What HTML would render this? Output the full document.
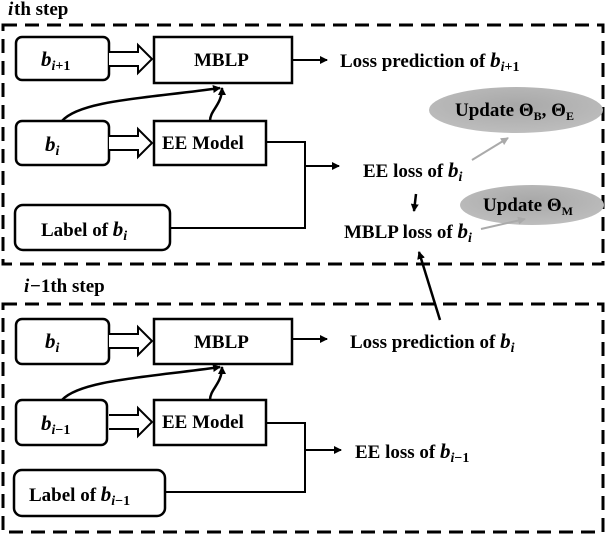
<!DOCTYPE html>
<html><head><meta charset="utf-8"><style>
html,body{margin:0;padding:0;background:#fff;}
svg{display:block;}
text{font-family:"Liberation Serif",serif;font-weight:bold;font-size:19px;fill:#000;}
.i{font-style:italic;}
.b{font-style:italic;font-size:21px;}
.s{font-size:14px;font-style:italic;}
.n{font-size:14px;}
</style></head><body>
<svg width="606" height="534" viewBox="0 0 606 534" xmlns="http://www.w3.org/2000/svg">
<defs>
<marker id="ah" markerWidth="8" markerHeight="8" refX="7" refY="4" orient="auto" markerUnits="userSpaceOnUse"><path d="M0,0 L8,4 L0,8 Z" fill="#000"/></marker>
<marker id="ag" markerWidth="8" markerHeight="8" refX="7" refY="4" orient="auto" markerUnits="userSpaceOnUse"><path d="M0,0 L8,4 L0,8 Z" fill="#aaa"/></marker>
<radialGradient id="eg" cx="50%" cy="40%" r="60%"><stop offset="0" stop-color="#a8a8a8"/><stop offset="1" stop-color="#bdbdbd"/></radialGradient>
</defs>

<!-- TOP -->
<text x="8" y="15" class="i">i</text><text x="14" y="15">th step</text>
<rect x="3" y="25" width="600" height="239" fill="none" stroke="#000" stroke-width="3" stroke-dasharray="14,8"/>

<rect x="16" y="37" width="93" height="43" rx="6" fill="#fff" stroke="#000" stroke-width="2.5"/>
<text x="41" y="66"><tspan class="b">b</tspan><tspan class="s" dy="4">i</tspan><tspan class="n">+1</tspan></text>
<rect x="154" y="37" width="138" height="46" fill="#fff" stroke="#000" stroke-width="2.5"/>
<text x="194" y="66">MBLP</text>
<path d="M109,52 H138 V45 L152,59 L138,73 V66 H109" fill="#fff" stroke="#000" stroke-width="2"/>
<line x1="292" y1="60" x2="327" y2="60" stroke="#000" stroke-width="2" marker-end="url(#ah)"/>
<text x="340" y="67">Loss prediction of <tspan class="b">b</tspan><tspan class="s" dy="4">i</tspan><tspan class="n">+1</tspan></text>

<rect x="16" y="121" width="93" height="44" rx="6" fill="#fff" stroke="#000" stroke-width="2.5"/>
<text x="45" y="151"><tspan class="b">b</tspan><tspan class="s" dy="4">i</tspan></text>
<rect x="154" y="121" width="112" height="44" fill="#fff" stroke="#000" stroke-width="2.5"/>
<text x="162" y="149">EE Model</text>
<path d="M109,136 H138 V129 L152,143 L138,157 V150 H109" fill="#fff" stroke="#000" stroke-width="2"/>
<path d="M62,121 C80,100 150,98 220,88" fill="none" stroke="#000" stroke-width="2.5" marker-end="url(#ah)"/>
<path d="M210,121 C210,110 222,105 222,88" fill="none" stroke="#000" stroke-width="2.5" marker-end="url(#ah)"/>

<rect x="15" y="205" width="155" height="45" rx="8" fill="#fff" stroke="#000" stroke-width="2.5"/>
<text x="41" y="236">Label of <tspan class="b">b</tspan><tspan class="s" dy="4">i</tspan></text>

<polyline points="266,142 305,142 305,228 170,228" fill="none" stroke="#000" stroke-width="2"/>
<line x1="305" y1="166" x2="339" y2="166" stroke="#000" stroke-width="2" marker-end="url(#ah)"/>
<text x="363" y="177">EE loss of <tspan class="b">b</tspan><tspan class="s" dy="4">i</tspan></text>
<line x1="416" y1="194" x2="414" y2="211" stroke="#000" stroke-width="2.5" marker-end="url(#ah)"/>
<text x="344" y="238">MBLP loss of <tspan class="b">b</tspan><tspan class="s" dy="4">i</tspan></text>

<ellipse cx="516" cy="110" rx="87" ry="23" fill="url(#eg)"/>
<text x="455" y="116">Update Θ<tspan style="font-size:12px" dy="4">B</tspan><tspan dy="-4">, Θ</tspan><tspan style="font-size:12px" dy="4">E</tspan></text>
<ellipse cx="532" cy="205" rx="72" ry="20" fill="url(#eg)"/>
<text x="483" y="211">Update Θ<tspan style="font-size:12px" dy="4">M</tspan></text>
<line x1="472" y1="160" x2="508" y2="138" stroke="#aaa" stroke-width="2" marker-end="url(#ag)"/>
<line x1="481" y1="229" x2="525" y2="219" stroke="#aaa" stroke-width="2" marker-end="url(#ag)"/>

<line x1="440" y1="320" x2="419" y2="252" stroke="#000" stroke-width="2.5" marker-end="url(#ah)"/>

<!-- BOTTOM -->
<text x="24" y="292" class="i">i</text><text x="30" y="292">−1th step</text>
<rect x="3" y="304" width="600" height="228" fill="none" stroke="#000" stroke-width="3" stroke-dasharray="14,8"/>

<rect x="16" y="319" width="93" height="45" rx="6" fill="#fff" stroke="#000" stroke-width="2.5"/>
<text x="45" y="348"><tspan class="b">b</tspan><tspan class="s" dy="4">i</tspan></text>
<rect x="154" y="319" width="138" height="45" fill="#fff" stroke="#000" stroke-width="2.5"/>
<text x="194" y="348">MBLP</text>
<path d="M109,334 H138 V327 L152,341 L138,355 V348 H109" fill="#fff" stroke="#000" stroke-width="2"/>
<line x1="292" y1="339" x2="327" y2="339" stroke="#000" stroke-width="2" marker-end="url(#ah)"/>
<text x="350" y="348">Loss prediction of <tspan class="b">b</tspan><tspan class="s" dy="4">i</tspan></text>

<rect x="16" y="400" width="91" height="45" rx="6" fill="#fff" stroke="#000" stroke-width="2.5"/>
<text x="41" y="430"><tspan class="b">b</tspan><tspan class="s" dy="4">i</tspan><tspan class="n">−1</tspan></text>
<rect x="154" y="400" width="112" height="45" fill="#fff" stroke="#000" stroke-width="2.5"/>
<text x="162" y="428">EE Model</text>
<path d="M109,415 H138 V408 L152,422 L138,436 V429 H109" fill="#fff" stroke="#000" stroke-width="2"/>
<path d="M62,400 C80,380 150,377 220,367" fill="none" stroke="#000" stroke-width="2.5" marker-end="url(#ah)"/>
<path d="M210,400 C210,389 222,384 222,367" fill="none" stroke="#000" stroke-width="2.5" marker-end="url(#ah)"/>

<rect x="14" y="470" width="151" height="46" rx="8" fill="#fff" stroke="#000" stroke-width="2.5"/>
<text x="29" y="501">Label of <tspan class="b">b</tspan><tspan class="s" dy="4">i</tspan><tspan class="n">−1</tspan></text>

<polyline points="266,423 305,423 305,492 165,492" fill="none" stroke="#000" stroke-width="2"/>
<line x1="305" y1="450" x2="341" y2="450" stroke="#000" stroke-width="2" marker-end="url(#ah)"/>
<text x="355" y="458">EE loss of <tspan class="b">b</tspan><tspan class="s" dy="4">i</tspan><tspan class="n">−1</tspan></text>
</svg>
</body></html>
